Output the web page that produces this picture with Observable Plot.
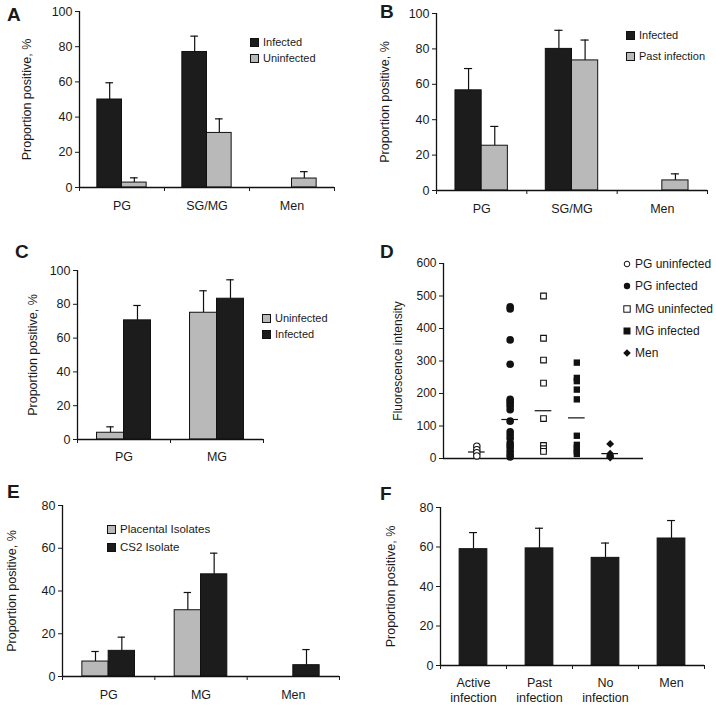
<!DOCTYPE html>
<html><head><meta charset="utf-8">
<script src="https://cdn.jsdelivr.net/npm/d3@7"></script>
<script src="https://cdn.jsdelivr.net/npm/@observablehq/plot@0.6"></script>
<style>
body{margin:0;background:#fff;font-family:"Liberation Sans",Arial,Helvetica,sans-serif;color:#1a1a1a;}
#fig{position:relative;width:716px;height:707px;overflow:hidden;}
.letter{position:absolute;font-weight:bold;font-size:19px;line-height:19px;}
.leg{position:absolute;display:flex;align-items:center;height:14px;line-height:14px;white-space:nowrap;}
.sw{display:inline-block;width:7px;height:7px;border:1px solid #111;margin-right:4px;}
</style></head>
<body><div id="fig"></div>
<script>
// ---------- data ----------
// Panel A
const aCategories = ["PG", "SG/MG", "Men"];
const aSeries = ["Infected", "Uninfected"];
const aInfected = [50, 77, null];
const aInfectedHigh = [59.5, 86, null];
const aUninfected = [2.8, 31, 5.1];
const aUninfectedHigh = [5.5, 39, 9];
// Panel B
const bCategories = ["PG", "SG/MG", "Men"];
const bSeries = ["Infected", "Past infection"];
const bInfected = [56.6, 80, null];
const bInfectedHigh = [68.9, 90.5, null];
const bPast = [25.3, 73.5, 5.7];
const bPastHigh = [36.2, 85, 9.4];
// Panel C
const cCategories = ["PG", "MG"];
const cSeries = ["Uninfected", "Infected"];
const cUninfected = [4, 75];
const cUninfectedHigh = [7.5, 88];
const cInfected = [70.5, 83.3];
const cInfectedHigh = [79.3, 94.5];
// Panel D
const dGroups = ["PG uninfected", "PG infected", "MG uninfected", "MG infected", "Men"];
const dPgUninfected = [38, 27, 18, 8];
const dPgInfected = [467, 460, 365, 290, 182, 175, 168, 160, 150, 115, 82, 72, 62, 48, 40, 32, 22, 12, 5];
const dMgUninfected = [500, 370, 303, 232, 123, 40, 30, 22];
const dMgInfected = [295, 248, 238, 212, 182, 70, 42, 32, 22, 14];
const dMen = [45, 15, 10, 6, 3];
const dMedians = [20, 120, 147, 125, 15];
const dTicks = [0, 100, 200, 300, 400, 500, 600];
// Panel E
const eCategories = ["PG", "MG", "Men"];
const eSeries = ["Placental Isolates", "CS2 Isolate"];
const ePlacental = [7, 31, null];
const ePlacentalHigh = [11.7, 39.3, null];
const eCS2 = [12, 47.8, 5.3];
const eCS2High = [18.4, 57.7, 12.6];
// Panel F
const fCategories = ["Active\ninfection", "Past\ninfection", "No\ninfection", "Men"];
const fSeries = ["All"];
const fValues = [58.9, 59.3, 54.5, 64.3];
const fHigh = [67.3, 69.5, 62, 73.4];

const ticks100 = [0, 20, 40, 60, 80, 100];
const ticks80 = [0, 20, 40, 60, 80];

// ---------- drawing ----------
const FONT = '"Liberation Sans", Arial, Helvetica, sans-serif';
const BLACK = "#1c1c1c", GREY = "#b9b9b9";
const fig = document.getElementById("fig");

function place(el, left, top) {
  el.style.position = "absolute";
  el.style.left = left + "px";
  el.style.top = top + "px";
  fig.appendChild(el);
}

function barPanel(o) {
  const n = o.categories.length, S = o.series.length;
  const rows = [];
  o.series.forEach((s, si) => o.categories.forEach((c, ci) => {
    const v = o.values[si][ci];
    if (v == null) return;
    const x1 = ci + 0.5 - o.barW * S / 2 + si * o.barW;
    rows.push({series: s, x1, x2: x1 + o.barW, xc: x1 + o.barW / 2, v, hi: o.highs[si][ci]});
  }));
  const svg = Plot.plot({
    width: o.width, height: o.height,
    marginTop: o.margin[0], marginRight: o.margin[1], marginBottom: o.margin[2], marginLeft: o.margin[3],
    style: {fontFamily: FONT, fontSize: "12.5px", color: "#1a1a1a", background: "transparent", overflow: "visible"},
    x: {domain: [0, n]},
    y: {domain: [0, o.yMax]},
    color: {domain: o.series, range: o.colors},
    marks: [
      Plot.ruleX(rows, {x: "xc", y1: "v", y2: "hi", stroke: "#111", strokeWidth: 1.2}),
      Plot.ruleY(rows, {x1: d => d.xc - o.cap, x2: d => d.xc + o.cap, y: "hi", stroke: "#111", strokeWidth: 1.2}),
      Plot.rect(rows, {x1: "x1", x2: "x2", y1: 0, y2: "v", fill: "series", stroke: "#111", strokeWidth: 1}),
      Plot.ruleY([0], {stroke: "#111", strokeWidth: 1.3}),
      Plot.ruleX([0], {stroke: "#111", strokeWidth: 1.3}),
      Plot.axisY({ticks: o.yTicks, tickSize: 4, tickPadding: 3, label: o.yLabel, labelAnchor: "center", labelArrow: "none", labelOffset: o.labelOffset, fontSize: 12.5}),
      Plot.axisX({ticks: d3.range(n + 1), tickSize: 4, tickFormat: () => "", label: null}),
      Plot.axisX({ticks: o.categories.map((c, i) => i + 0.5), tickSize: 0, tickPadding: o.xPad, tickFormat: t => o.categories[Math.floor(t)], label: null, fontSize: 12.5, lineHeight: 1.2})
    ]
  });
  place(svg, o.left, o.top);
}

function letter(t, left, top) {
  const d = document.createElement("div");
  d.className = "letter"; d.textContent = t;
  d.style.left = left + "px"; d.style.top = top + "px";
  fig.appendChild(d);
}

function swatchLegend(items, left, firstCenter, step, fontSize) {
  items.forEach((it, i) => {
    const d = document.createElement("div");
    d.className = "leg";
    d.style.left = left + "px";
    d.style.top = (firstCenter + i * step - 7) + "px";
    d.style.fontSize = fontSize + "px";
    const s = document.createElement("span");
    s.className = "sw"; s.style.background = it.color;
    d.appendChild(s);
    d.appendChild(document.createTextNode(it.label));
    fig.appendChild(d);
  });
}

// A
barPanel({categories: aCategories, series: aSeries, values: [aInfected, aUninfected], highs: [aInfectedHigh, aUninfectedHigh],
  colors: [BLACK, GREY], yMax: 100, yTicks: ticks100, yLabel: "Proportion positive, %",
  left: 0, top: 0, width: 358, height: 230, margin: [11, 24, 43, 79], barW: 0.29, cap: 0.045, labelOffset: 57, xPad: 12});
// B
barPanel({categories: bCategories, series: bSeries, values: [bInfected, bPast], highs: [bInfectedHigh, bPastHigh],
  colors: [BLACK, GREY], yMax: 100, yTicks: ticks100, yLabel: "Proportion positive, %",
  left: 358, top: 0, width: 358, height: 230, margin: [13, 9, 40, 78], barW: 0.29, cap: 0.045, labelOffset: 56, xPad: 12});
// C
barPanel({categories: cCategories, series: cSeries, values: [cUninfected, cInfected], highs: [cUninfectedHigh, cInfectedHigh],
  colors: [GREY, BLACK], yMax: 100, yTicks: ticks100, yLabel: "Proportion positive, %",
  left: 0, top: 230, width: 358, height: 230, margin: [40, 95, 21, 77], barW: 0.29, cap: 0.04, labelOffset: 49, xPad: 11});
// E
barPanel({categories: eCategories, series: eSeries, values: [ePlacental, eCS2], highs: [ePlacentalHigh, eCS2High],
  colors: [GREY, BLACK], yMax: 80, yTicks: ticks80, yLabel: "Proportion positive, %",
  left: 0, top: 460, width: 358, height: 247, margin: [45, 19, 31, 62], barW: 0.285, cap: 0.04, labelOffset: 55, xPad: 12});
// F
barPanel({categories: fCategories, series: fSeries, values: [fValues], highs: [fHigh],
  colors: [BLACK], yMax: 80, yTicks: ticks80, yLabel: "Proportion positive, %",
  left: 358, top: 460, width: 358, height: 247, margin: [47, 12, 42, 82], barW: 0.42, cap: 0.06, labelOffset: 54, xPad: 11});

// D
{
  const groupsData = [dPgUninfected, dPgInfected, dMgUninfected, dMgInfected, dMen];
  const pts = groupsData.map((vals, gi) => vals.map(v => ({g: gi + 1, v})));
  const med = dMedians.map((m, i) => ({x1: i + 1 - 0.25, x2: i + 1 + 0.25, y: m}));
  const svg = Plot.plot({
    width: 358, height: 230, marginTop: 33, marginRight: 73, marginBottom: 2, marginLeft: 85,
    style: {fontFamily: FONT, fontSize: "12px", color: "#1a1a1a", background: "transparent", overflow: "visible"},
    x: {domain: [0, groupsData.length + 1], axis: null},
    y: {domain: [0, 600]},
    marks: [
      Plot.ruleY([0], {stroke: "#111", strokeWidth: 1.3}),
      Plot.ruleX([0], {stroke: "#111", strokeWidth: 1.3}),
      Plot.axisY({ticks: dTicks, tickSize: 4, tickPadding: 3, label: "Fluorescence intensity", labelAnchor: "center", labelArrow: "none", labelOffset: 50, fontSize: 12}),
      Plot.ruleY(med, {x1: "x1", x2: "x2", y: "y", stroke: "#111", strokeWidth: 1.2}),
      Plot.dot(pts[0], {x: "g", y: "v", symbol: "circle", r: 3.2, fill: "white", stroke: "#111", strokeWidth: 1.1}),
      Plot.dot(pts[1], {x: "g", y: "v", symbol: "circle", r: 3.8, fill: "#111", stroke: "none"}),
      Plot.dot(pts[2], {x: "g", y: "v", symbol: "square", r: 3.2, fill: "white", stroke: "#111", strokeWidth: 1.1}),
      Plot.dot(pts[3], {x: "g", y: "v", symbol: "square", r: 3.6, fill: "#111", stroke: "none"}),
      Plot.dot(pts[4], {x: "g", y: "v", symbol: "diamond2", r: 3.6, fill: "#111", stroke: "none"})
    ]
  });
  place(svg, 358, 230);
  // legend for D
  const shapes = [
    '<circle cx="5" cy="5" r="2.8" fill="white" stroke="#111" stroke-width="1"/>',
    '<circle cx="5" cy="5" r="3.2" fill="#111"/>',
    '<rect x="1.8" y="1.8" width="6.4" height="6.4" fill="white" stroke="#111" stroke-width="1"/>',
    '<rect x="1.5" y="1.5" width="7" height="7" fill="#111"/>',
    '<path d="M5 1.2 L8.8 5 L5 8.8 L1.2 5 Z" fill="#111"/>'
  ];
  dGroups.forEach((label, i) => {
    const d = document.createElement("div");
    d.className = "leg";
    d.style.left = "622px";
    d.style.top = (264 + i * 22.3 - 7) + "px";
    d.style.fontSize = "12px";
    d.innerHTML = '<svg width="10" height="10" style="margin-right:3px">' + shapes[i] + '</svg>';
    d.appendChild(document.createTextNode(label));
    fig.appendChild(d);
  });
}

// legends
swatchLegend([{label: aSeries[0], color: BLACK}, {label: aSeries[1], color: GREY}], 250, 42, 16, 11);
swatchLegend([{label: bSeries[0], color: BLACK}, {label: bSeries[1], color: GREY}], 626, 35, 21, 11);
swatchLegend([{label: cSeries[0], color: GREY}, {label: cSeries[1], color: BLACK}], 262, 318, 16, 11);
swatchLegend([{label: eSeries[0], color: GREY}, {label: eSeries[1], color: BLACK}], 107, 529, 18, 11.5);

// panel letters
letter("A", 7, 5);
letter("B", 380, 2);
letter("C", 15, 242);
letter("D", 380, 242);
letter("E", 7, 482);
letter("F", 380, 484);
</script>
</body></html>
